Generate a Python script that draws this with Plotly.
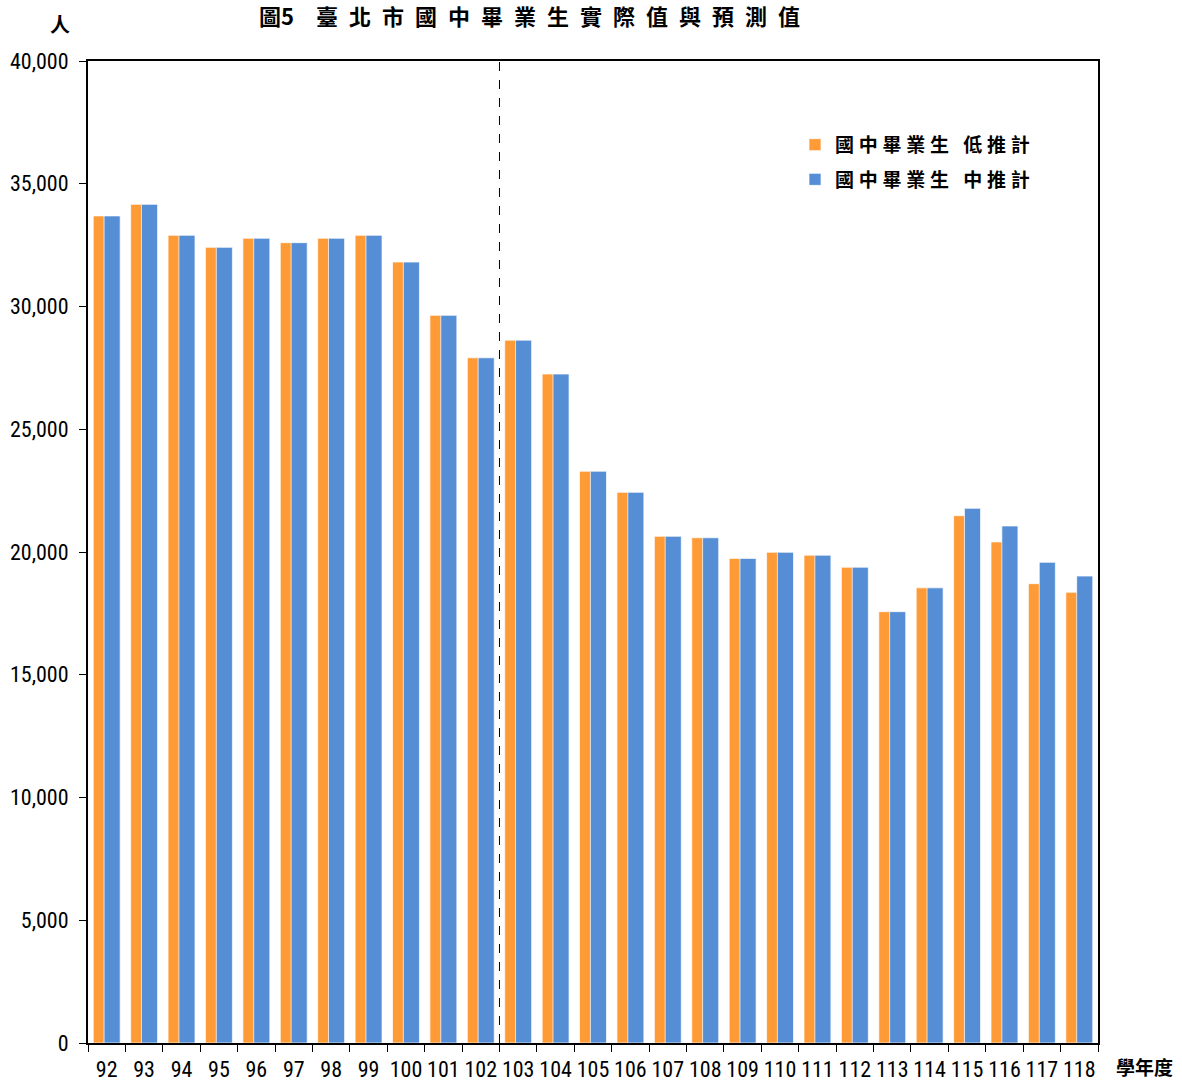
import plotly.graph_objects as go

years = ["92", "93", "94", "95", "96", "97", "98", "99", "100", "101", "102", "103", "104",
         "105", "106", "107", "108", "109", "110", "111", "112", "113", "114", "115", "116", "117", "118"]
low = [33690, 34160, 32900, 32410, 32780, 32600, 32780, 32900, 31810, 29640, 27910, 28630, 27250,
       23290, 22430, 20640, 20580, 19740, 19990, 19870, 19380, 17570, 18540, 21480, 20410, 18710, 18360]
mid = [33690, 34160, 32900, 32410, 32780, 32600, 32780, 32900, 31810, 29640, 27910, 28630, 27250,
       23290, 22430, 20640, 20580, 19740, 19990, 19870, 19380, 17570, 18540, 21780, 21060, 19580, 19020]
y_ticks = [0, 5000, 10000, 15000, 20000, 25000, 30000, 35000, 40000]
y_tick_labels = [f"{v:,}" for v in y_ticks]

num_font = "Liberation Sans Narrow, Roboto Condensed, Arial Narrow, sans-serif"
cjk_font = "Noto Sans CJK TC, Noto Sans CJK SC, sans-serif"


def spaced(s, sep="\u2005"):
    return sep.join(list(s))


fig = go.Figure()
fig.add_trace(go.Bar(
    x=years, y=low, name="<b>" + spaced("國中畢業生") + "\u2002\u2005" + spaced("低推計") + "</b>",
    legendgroup="a",
    marker=dict(color="#FF9B37", line=dict(color="rgba(255,255,255,0.7)", width=1)),
    offset=-0.36, width=0.43,
))
fig.add_trace(go.Bar(
    x=years, y=mid, name="<b>" + spaced("國中畢業生") + "\u2002\u2005" + spaced("中推計") + "</b>",
    legendgroup="b",
    marker=dict(color="#558ED5", line=dict(color="rgba(255,255,255,0.7)", width=1)),
    offset=-0.07, width=0.43,
))

fig.add_shape(type="line", xref="x", yref="paper", x0=10.5, x1=10.5, y0=0, y1=1,
              line=dict(color="black", width=1, dash="dash"))

fig.add_annotation(text="<b>" + "圖5\u2003" + spaced("臺北市國中畢業生實際值與預測值", "\u2002") + "</b>",
                   xref="paper", yref="paper",
                   x=0.437, y=1.065, xanchor="center", yanchor="top", showarrow=False,
                   font=dict(family=cjk_font, size=22, color="black"))
fig.add_annotation(text="<b>人</b>", xref="paper", yref="paper",
                   x=-0.028, y=1.038, xanchor="center", yanchor="middle", showarrow=False,
                   font=dict(family=cjk_font, size=20, color="black"))
fig.add_annotation(text="<b>學年度</b>", xref="paper", yref="paper",
                   x=1.0465, y=-0.0235, xanchor="center", yanchor="middle", showarrow=False,
                   font=dict(family=cjk_font, size=19, color="black"))

fig.update_layout(
    width=1182, height=1081,
    margin=dict(l=88, r=84, t=61, b=38),
    plot_bgcolor="white", paper_bgcolor="white",
    barmode="overlay",
    showlegend=True,
    legend=dict(x=0.700, y=0.934, xanchor="left", yanchor="top",
                font=dict(family=cjk_font, size=19, color="black"),
                bgcolor="rgba(0,0,0,0)", tracegroupgap=7),
    font=dict(family=num_font, size=22, color="black"),
)
fig.update_xaxes(type="category", showline=True, linecolor="black", linewidth=2, mirror=True,
                 ticks="outside", tickson="boundaries", ticklen=7, tickcolor="black", tickwidth=1,
                 ticklabelstandoff=6, tickangle=0, automargin=False,
                 showgrid=False, tickfont=dict(family=num_font, size=22, color="black"))
fig.update_yaxes(range=[0, 40000], tickvals=y_ticks, ticktext=y_tick_labels,
                 showline=True, linecolor="black", linewidth=2, mirror=True,
                 ticks="outside", ticklen=7, tickcolor="black", tickwidth=1,
                 ticklabelstandoff=6, automargin=False,
                 showgrid=False, zeroline=False,
                 tickfont=dict(family=num_font, size=22, color="black"))

fig.write_html("out.html", config={"displayModeBar": False},
               post_script="document.body.style.margin='0';")
